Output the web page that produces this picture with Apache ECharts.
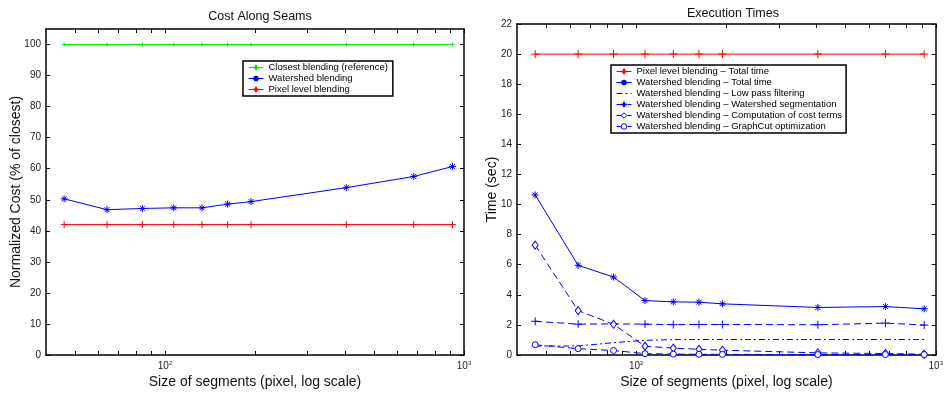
<!DOCTYPE html>
<html>
<head>
<meta charset="utf-8">
<script src="https://cdn.jsdelivr.net/npm/echarts@6/dist/echarts.min.js"></script>
<style>
  html, body { margin: 0; padding: 0; background: #fff; }
  #chart { width: 946px; height: 394px; }
</style>
</head>
<body>
<div id="chart"></div>
<script>
// segment sizes (x, log scale)
const sizes = [46, 64, 84, 107, 133, 162, 194, 404, 679, 915]

// Cost Along Seams (% of closest)
const closestCost = [100, 100, 100, 100, 100, 100, 100, 100, 100, 100]
const watershedCost = [50.3, 46.8, 47.2, 47.4, 47.4, 48.6, 49.4, 53.9, 57.5, 60.7]
const pixelCost = [42, 42, 42, 42, 42, 42, 42, 42, 42, 42]

// Execution Times (sec)
const pixelTotal = [20, 20, 20, 20, 20, 20, 20, 20, 20, 20]
const wsTotal = [10.64, 5.96, 5.18, 3.62, 3.53, 3.51, 3.40, 3.16, 3.22, 3.07]
const wsLowPass = [0.6, 0.6, 0.82, 0.98, 1.02, 1.03, 1.03, 1.03, 1.03, 1.03]
const wsSegmentation = [2.24, 2.05, 2.07, 2.05, 2.02, 2.03, 2.03, 2.01, 2.12, 1.99]
const wsCostTerms = [7.3, 2.95, 2.04, 0.58, 0.46, 0.38, 0.32, 0.14, 0.1, 0.05]
const wsGraphCut = [0.68, 0.42, 0.3, 0.09, 0.06, 0.05, 0.04, 0.03, 0.03, 0.03]

// ticks
const xLabelTicks = [100, 1000]
const xMinorTicks = [50, 60, 70, 80, 90, 100, 200, 300, 400, 500, 600, 700, 800, 900, 1000]
const costTicks = [0, 10, 20, 30, 40, 50, 60, 70, 80, 90, 100]
const timeTicks = [0, 2, 4, 6, 8, 10, 12, 14, 16, 18, 20, 22]

const FONT = 'Liberation Sans, Arial, Helvetica, sans-serif'
const BLUE = '#0000ff'
const RED = '#ff0000'
const GREEN = '#00e600'

const PLUS = 'path://M0,5L10,5M5,0L5,10'
const STAR = 'path://M5,0L5,10M0,5L10,5M1.5,1.5L8.5,8.5M8.5,1.5L1.5,8.5'

const pairs = (ys) => sizes.map((x, i) => [x, ys[i]])

const axisLine = { show: true, onZero: false, lineStyle: { color: '#000', width: 1.5 } }

function xAxisOf(gridIndex, top) {
  return {
    type: 'log',
    gridIndex,
    position: top ? 'top' : 'bottom',
    min: 40,
    max: 1000,
    logBase: 10,
    name: top ? '' : 'Size of segments (pixel, log scale)',
    nameLocation: 'middle',
    nameGap: 20,
    nameMoveOverlap: false,
    nameTextStyle: { fontFamily: FONT, fontSize: 14, color: '#111' },
    axisLine,
    axisTick: { show: true, inside: true, length: 4, customValues: xMinorTicks, lineStyle: { color: '#000', width: 1 } },
    axisLabel: {
      show: !top,
      customValues: xLabelTicks,
      margin: 5,
      color: '#222',
      formatter: (v) => '{b|10}{s|' + Math.round(Math.log10(v)) + '}',
      rich: {
        b: { fontFamily: FONT, fontSize: 10, color: '#222' },
        s: { fontFamily: FONT, fontSize: 6, color: '#222', verticalAlign: 'top', padding: [0, 0, 6, 0] }
      }
    },
    splitLine: { show: false },
    minorTick: { show: false }
  }
}

function yAxisOf(gridIndex, right, max, interval, ticks, name, gap) {
  return {
    type: 'value',
    gridIndex,
    position: right ? 'right' : 'left',
    min: 0,
    max,
    interval,
    name: right ? '' : name,
    nameLocation: 'middle',
    nameGap: gap,
    nameMoveOverlap: false,
    nameTextStyle: { fontFamily: FONT, fontSize: 14, color: '#111' },
    axisLine,
    axisTick: { show: true, inside: true, length: 4, customValues: ticks, lineStyle: { color: '#000' } },
    axisLabel: { show: !right, customValues: ticks, margin: 5, fontFamily: FONT, fontSize: 10, color: '#222' },
    splitLine: { show: false }
  }
}

function lineSeries(name, xi, yi, data, color, symbol, size, dash, fill) {
  return {
    name,
    type: 'line',
    xAxisIndex: xi,
    yAxisIndex: yi,
    data: pairs(data),
    symbol,
    symbolSize: size,
    showSymbol: size !== 0,
    color,
    lineStyle: { color, width: 1, type: dash || 'solid' },
    itemStyle: { color: fill || color, borderColor: color, borderWidth: 1 },
    emphasis: { disabled: true },
    animation: false,
    z: 3
  }
}

// legend entry with hollow / hidden marker
const hollow = (name) => ({ name, itemStyle: { color: '#fff', borderColor: BLUE, borderWidth: 1 } })
const noMarker = (name) => ({ name, itemStyle: { opacity: 0 }, lineStyle: { color: BLUE } })

const legendBase = {
  orient: 'vertical',
  itemWidth: 15,
  itemHeight: 7,
  itemGap: 0,
  backgroundColor: '#fff',
  borderColor: '#000',
  borderWidth: 1.5,
  lineStyle: { width: 1 },
  textStyle: { fontFamily: FONT, fontSize: 9.5, color: '#000', lineHeight: 11 },
  selectedMode: false
}

const option = {
  backgroundColor: '#fff',
  animation: false,
  title: [
    { text: 'Cost Along Seams', left: 255, top: 5, textAlign: 'center',
      textStyle: { fontFamily: FONT, fontSize: 12.5, fontWeight: 'normal', color: '#111' } },
    { text: 'Execution Times', left: 728, top: 2, textAlign: 'center',
      textStyle: { fontFamily: FONT, fontSize: 12.5, fontWeight: 'normal', color: '#111' } }
  ],
  legend: [
    Object.assign({}, legendBase, {
      data: ['Closest blending (reference)', 'Watershed blending', 'Pixel level blending'],
      left: 243,
      top: 61,
      padding: [1, 5, 1, 5]
    }),
    Object.assign({}, legendBase, {
      data: [
        'Pixel level blending – Total time',
        'Watershed blending – Total time',
        noMarker('Watershed blending – Low pass filtering'),
        'Watershed blending – Watershed segmentation',
        hollow('Watershed blending – Computation of cost terms'),
        hollow('Watershed blending – GraphCut optimization')
      ],
      left: 611,
      top: 65,
      padding: [1, 4, 1, 5]
    })
  ],
  grid: [
    { left: 46, top: 29, width: 418, height: 329.5 },
    { left: 517, top: 24, width: 422, height: 334.3 }
  ],
  xAxis: [xAxisOf(0, false), xAxisOf(1, false), xAxisOf(0, true), xAxisOf(1, true)],
  yAxis: [
    yAxisOf(0, false, 105, 10, costTicks, 'Normalized Cost (% of closest)', 23),
    yAxisOf(1, false, 22, 2, timeTicks, 'Time (sec)', 18),
    yAxisOf(0, true, 105, 10, costTicks, '', 0),
    yAxisOf(1, true, 22, 2, timeTicks, '', 0)
  ],
  series: [
    lineSeries('Closest blending (reference)', 0, 0, closestCost, GREEN, PLUS, 4),
    lineSeries('Watershed blending', 0, 0, watershedCost, BLUE, STAR, 7),
    lineSeries('Pixel level blending', 0, 0, pixelCost, RED, PLUS, 7),

    lineSeries('Pixel level blending – Total time', 1, 1, pixelTotal, RED, PLUS, 8),
    lineSeries('Watershed blending – Total time', 1, 1, wsTotal, BLUE, STAR, 7),
    lineSeries('Watershed blending – Low pass filtering', 1, 1, wsLowPass, BLUE, 'circle', 0, [6, 3, 2, 3]),
    lineSeries('Watershed blending – Watershed segmentation', 1, 1, wsSegmentation, BLUE, PLUS, 8, [7, 4]),
    lineSeries('Watershed blending – Computation of cost terms', 1, 1, wsCostTerms, BLUE, 'diamond', [6, 8], [7, 4], '#fff'),
    lineSeries('Watershed blending – GraphCut optimization', 1, 1, wsGraphCut, BLUE, 'circle', 6, [7, 4], '#fff')
  ]
}

const myChart = echarts.init(document.getElementById('chart'))
myChart.setOption(option)
window.addEventListener('resize', () => {
  myChart && myChart.resize()
})
</script>
</body>
</html>
